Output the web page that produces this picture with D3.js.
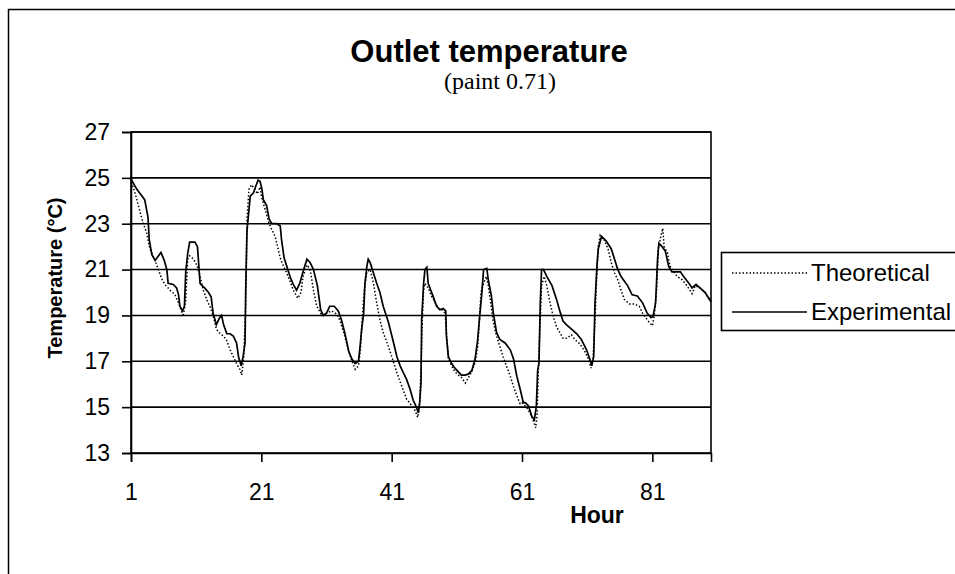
<!DOCTYPE html>
<html>
<head>
<meta charset="utf-8">
<script src="https://cdn.jsdelivr.net/npm/d3@7/dist/d3.min.js"></script>
<style>
  body { margin: 0; background: #fff; }
  svg { display: block; }
</style>
</head>
<body>
<div id="chart"></div>
<script>
var title = "Outlet temperature";
var subtitle = "(paint 0.71)";
var xLabel = "Hour";
var yLabel = "Temperature (°C)";
var seriesNames = ["Theoretical", "Experimental"];
var xTicks = [1, 21, 41, 61, 81];
var yTicks = [13, 15, 17, 19, 21, 23, 25, 27];

// vertex by vertex (hour, °C)
var theoHours = [1, 1.4, 1.9, 2.4, 2.9, 3.4, 3.9, 4.7, 5.2, 5.7, 6.2, 7, 7.75, 8.5, 9, 9.4, 9.7, 10, 10.6, 11.1,
  11.6, 12.1, 12.6, 13.1, 13.6, 14.1, 14.7, 15.2, 15.7, 16.2, 16.7, 17.2, 17.7, 18, 18.3, 18.6, 18.8, 19.1, 19.5, 20,
  20.4, 20.8, 21, 21.6, 22.2, 22.6, 23.1, 23.5, 23.9, 24.4, 24.9, 25.4, 25.9, 26.6, 27.1, 27.4, 28, 28.5, 29, 29.5,
  30.3, 31, 31.8, 32.6, 33.1, 33.8, 34.4, 34.9, 35.4, 35.9, 36.2, 36.5, 36.8, 37.2, 37.7, 38.2, 38.7, 39.2, 39.7, 40.5,
  41.3, 41.8, 42.5, 43.3, 44.1, 44.6, 45, 45.3, 45.5, 45.7, 45.9, 46.1, 46.6, 47.1, 47.6, 48.2, 48.7, 49.2, 49.4, 49.7,
  50.2, 50.7, 51.2, 51.7, 52.3, 52.8, 53.3, 53.8, 54.2, 54.5, 54.7, 55.1, 55.5, 55.8, 56.2, 56.6, 57.1, 57.6, 58.1, 58.6,
  59.2, 59.7, 60.2, 60.7, 61, 61.8, 62.5, 63.1, 63.3, 63.5, 63.8, 64, 64.4, 64.8, 65.3, 65.8, 66.3, 66.8, 67.3, 67.8,
  68.6, 69.1, 69.9, 70.6, 71.2, 71.6, 71.9, 72.2, 72.5, 72.7, 73, 73.6, 74.2, 74.7, 75.2, 75.7, 76.2, 76.7, 77.5, 78.2,
  79, 79.5, 80, 80.5, 81, 81.3, 81.7, 81.9, 82.3, 82.6, 82.8, 83.3, 83.7, 84.3, 84.8, 85.6, 86.3, 87.1, 87.6, 88.3,
  89.1, 90];
var theoTemps = [24.8, 24.55, 24.05, 23.5, 23.0, 22.6, 21.9, 21.4, 21.0, 20.6, 20.35, 20.1, 19.9, 19.4, 18.95, 19.7, 21.45, 21.6, 21.45, 21.2,
  20.7, 20.1, 19.7, 19.4, 19.0, 18.4, 18.2, 18.1, 17.9, 17.5, 17.2, 16.9, 16.65, 16.4, 17.2, 19.5, 23.2, 24.5, 24.7, 24.5,
  24.3, 24.6, 24.2, 23.6, 23.0, 22.75, 22.45, 22.0, 21.5, 21.15, 20.85, 20.5, 20.1, 19.75, 20.0, 20.7, 21.2, 21.0, 20.1, 19.4,
  19.0, 19.1, 19.2, 19.05, 18.75, 18.1, 17.45, 17.0, 16.65, 16.8, 17.5, 18.95, 20.1, 20.9, 21.0, 20.4, 19.55, 18.8, 18.25, 17.65,
  16.95, 16.5, 15.95, 15.35, 15.05, 14.85, 14.55, 15.2, 16.7, 18.8, 20.1, 20.4, 20.2, 19.85, 19.6, 19.3, 19.25, 19.1, 18.25, 17.1,
  16.8, 16.55, 16.4, 16.3, 16.05, 16.3, 16.55, 16.95, 17.65, 18.95, 20.0, 20.4, 20.7, 20.35, 19.55, 18.7, 18.1, 17.65, 17.2, 16.8,
  16.35, 15.9, 15.5, 15.15, 15.2, 14.95, 14.6, 14.1, 14.6, 16.6, 18.8, 20.3, 20.7, 20.3, 19.55, 18.95, 18.5, 18.25, 18.0, 18.0,
  18.15, 17.95, 17.75, 17.45, 17.1, 16.7, 17.1, 18.8, 21.0, 22.0, 22.5, 22.3, 21.9, 21.3, 20.85, 20.55, 20.1, 19.7, 19.5, 19.5,
  19.4, 19.1, 18.9, 18.7, 18.55, 19.0, 20.3, 21.9, 22.45, 22.8, 22.0, 21.75, 21.15, 20.9, 20.7, 20.55, 20.3, 19.95, 20.3, 20.2,
  20.0, 19.6];

var expHours = [1, 1.9, 3.1, 3.6, 3.8, 4.2, 4.7, 5.6, 6.1, 6.5, 6.7, 7.5, 8, 8.3, 8.5, 8.9, 9.2, 9.4, 9.7, 10,
  10.8, 11.2, 11.6, 11.9, 12.3, 12.9, 13.3, 13.6, 14.1, 14.6, 14.9, 15.2, 15.7, 16.2, 16.7, 17.2, 17.5, 17.9, 18.2, 18.5,
  18.6, 18.8, 19, 19.3, 19.8, 20.1, 20.5, 20.8, 21.1, 21.3, 21.8, 22.2, 22.6, 23.4, 23.9, 24.1, 24.5, 24.9, 25.4, 25.9,
  26.4, 26.9, 27.5, 28, 28.5, 29, 29.6, 30.1, 30.5, 31, 31.5, 32.2, 32.8, 33.3, 33.8, 34.4, 34.9, 35.4, 35.9, 36.1,
  36.4, 36.7, 36.9, 37.2, 37.4, 37.7, 38.2, 38.7, 39.2, 39.7, 40.5, 41.3, 41.8, 42.3, 42.8, 43.3, 43.8, 44.3, 44.8, 45.1,
  45.3, 45.5, 45.6, 45.9, 46.1, 46.4, 46.6, 47, 47.4, 47.9, 48.4, 48.9, 49.3, 49.4, 49.7, 50.2, 50.7, 51.2, 51.7, 52.3,
  52.8, 53.3, 53.8, 54.2, 54.5, 54.8, 55.1, 55.6, 55.8, 56.3, 56.6, 57.1, 57.6, 58.4, 59.2, 59.7, 60.2, 60.7, 61.2, 61.5,
  62, 62.5, 62.9, 63.2, 63.4, 63.6, 63.8, 64, 64.3, 64.8, 65.6, 66.3, 66.9, 67.3, 67.8, 68.6, 69.4, 70.1, 70.9, 71.4,
  71.7, 72, 72.2, 72.5, 72.7, 73.2, 73.9, 74.7, 75.2, 75.7, 76.2, 77.2, 77.9, 78.7, 79.5, 80.2, 80.8, 81.1, 81.5, 81.8,
  82, 82.5, 83, 83.5, 84, 85.3, 85.8, 86.6, 87.1, 87.7, 88.3, 89.1, 90];
var expTemps = [24.95, 24.5, 24.05, 23.3, 22.3, 21.65, 21.4, 21.75, 21.4, 21.0, 20.4, 20.35, 20.2, 19.9, 19.4, 19.2, 19.4, 20.9, 21.7, 22.2,
  22.2, 22.0, 20.4, 20.3, 20.2, 20.0, 19.8, 19.1, 18.6, 18.9, 19.0, 18.6, 18.2, 18.2, 18.1, 17.8, 17.2, 16.8, 17.2, 17.8,
  20.1, 22.7, 23.3, 24.2, 24.35, 24.6, 24.9, 24.85, 24.5, 24.05, 23.8, 23.2, 23.0, 23.0, 22.9, 22.3, 21.5, 21.15, 20.7, 20.35,
  20.1, 20.4, 21.0, 21.45, 21.3, 21.0, 20.3, 19.25, 19.0, 19.1, 19.4, 19.4, 19.2, 18.8, 18.25, 17.45, 17.1, 16.9, 17.0, 17.5,
  18.4, 19.1, 20.4, 21.15, 21.45, 21.3, 20.85, 20.4, 20.0, 19.4, 18.7, 17.8, 17.2, 16.8, 16.5, 16.2, 15.8, 15.3, 15.0, 14.75,
  15.2, 16.05, 18.8, 20.4, 21.0, 21.1, 20.4, 20.1, 19.8, 19.4, 19.25, 19.3, 19.2, 18.1, 17.2, 16.9, 16.7, 16.55, 16.4, 16.4,
  16.45, 16.6, 17.1, 17.95, 18.95, 19.85, 21.0, 21.05, 20.6, 19.85, 19.1, 18.25, 17.95, 17.8, 17.5, 17.1, 16.35, 15.8, 15.2, 15.2,
  15.05, 14.6, 14.45, 15.05, 16.6, 16.9, 19.5, 21.0, 21.0, 20.7, 20.3, 19.7, 19.1, 18.75, 18.6, 18.4, 18.2, 17.95, 17.5, 17.1,
  16.8, 17.2, 19.55, 21.15, 21.9, 22.45, 22.25, 21.9, 21.45, 21.0, 20.7, 20.3, 19.9, 19.85, 19.55, 19.1, 18.9, 18.95, 19.55, 21.45,
  22.15, 22.0, 21.8, 21.15, 20.9, 20.9, 20.7, 20.4, 20.2, 20.35, 20.2, 20.0, 19.6];

var W = 955, H = 574;
var plotLeft = 131, plotRight = 711, plotTop = 132, plotBottom = 453;
var sans = "'Liberation Sans', Arial, sans-serif";

var svg = d3.select("#chart").append("svg")
  .attr("width", W).attr("height", H);

// chart area border (runs off the page on right and bottom)
svg.append("rect")
  .attr("x", 8.5).attr("y", 9.5)
  .attr("width", 1000).attr("height", 700)
  .attr("fill", "#fff").attr("stroke", "#000").attr("stroke-width", 1.5);

var x = d3.scaleLinear().domain([1, 90]).range([plotLeft, plotRight]);
var y = d3.scaleLinear().domain([13, 27]).range([plotBottom, plotTop]);

// gridlines
svg.append("g").selectAll("line")
  .data(yTicks.slice(1))
  .enter().append("line")
  .attr("x1", plotLeft).attr("x2", plotRight)
  .attr("y1", d => y(d)).attr("y2", d => y(d))
  .attr("stroke", "#000").attr("stroke-width", 1.6);

// plot border
svg.append("rect")
  .attr("x", plotLeft).attr("y", plotTop)
  .attr("width", plotRight - plotLeft).attr("height", plotBottom - plotTop)
  .attr("fill", "none").attr("stroke", "#000").attr("stroke-width", 1.6);

// axes
var yAxis = svg.append("g")
  .attr("transform", `translate(${plotLeft},0)`)
  .call(d3.axisLeft(y).tickValues(yTicks).tickSize(9).tickPadding(12).tickFormat(d3.format("d")));
var xAxis = svg.append("g")
  .attr("transform", `translate(0,${plotBottom})`)
  .call(d3.axisBottom(x).tickValues(xTicks).tickSize(9).tickPadding(22).tickFormat(d3.format("d")));
[yAxis, xAxis].forEach(a => {
  a.select(".domain").attr("stroke", "#000").attr("stroke-width", 1.6);
  a.selectAll(".tick line").attr("stroke", "#000").attr("stroke-width", 1.6);
  a.selectAll("text").attr("fill", "#000").attr("font-family", sans).attr("font-size", 23);
});

// series
var line = d3.line().x(d => x(d[0])).y(d => y(d[1]));
var theo = theoHours.map((h, i) => [h, theoTemps[i]]);
var exp = expHours.map((h, i) => [h, expTemps[i]]);

svg.append("path").datum(exp)
  .attr("d", line).attr("fill", "none")
  .attr("stroke", "#000").attr("stroke-width", 1.7);
svg.append("path").datum(theo)
  .attr("d", line).attr("fill", "none")
  .attr("stroke", "#000").attr("stroke-width", 1.5)
  .attr("stroke-dasharray", "1.5,2");

// titles
svg.append("text")
  .attr("x", 489).attr("y", 62)
  .attr("text-anchor", "middle")
  .attr("font-family", sans).attr("font-weight", "bold").attr("font-size", 31)
  .text(title);
svg.append("text")
  .attr("x", 500).attr("y", 89)
  .attr("text-anchor", "middle")
  .attr("font-family", "'Liberation Serif', 'Times New Roman', serif").attr("font-size", 24)
  .text(subtitle);
svg.append("text")
  .attr("x", 597).attr("y", 523)
  .attr("text-anchor", "middle")
  .attr("font-family", sans).attr("font-weight", "bold").attr("font-size", 23)
  .text(xLabel);
svg.append("text")
  .attr("transform", "translate(62,278) rotate(-90)")
  .attr("text-anchor", "middle")
  .attr("font-family", sans).attr("font-weight", "bold").attr("font-size", 20)
  .text(yLabel);

// legend
var legend = svg.append("g");
legend.append("rect")
  .attr("x", 721.5).attr("y", 252.5)
  .attr("width", 300).attr("height", 78)
  .attr("fill", "#fff").attr("stroke", "#000").attr("stroke-width", 1.6);
var legendY = [273, 312];
seriesNames.forEach((name, i) => {
  legend.append("line")
    .attr("x1", 732).attr("x2", 807)
    .attr("y1", legendY[i]).attr("y2", legendY[i])
    .attr("stroke", "#000").attr("stroke-width", i === 0 ? 1.5 : 1.7)
    .attr("stroke-dasharray", i === 0 ? "1.5,2" : null);
  legend.append("text")
    .attr("x", 811).attr("y", legendY[i])
    .attr("dy", "0.35em")
    .attr("font-family", sans).attr("font-size", 24)
    .attr("fill", "#000")
    .text(name);
});
</script>
</body>
</html>
